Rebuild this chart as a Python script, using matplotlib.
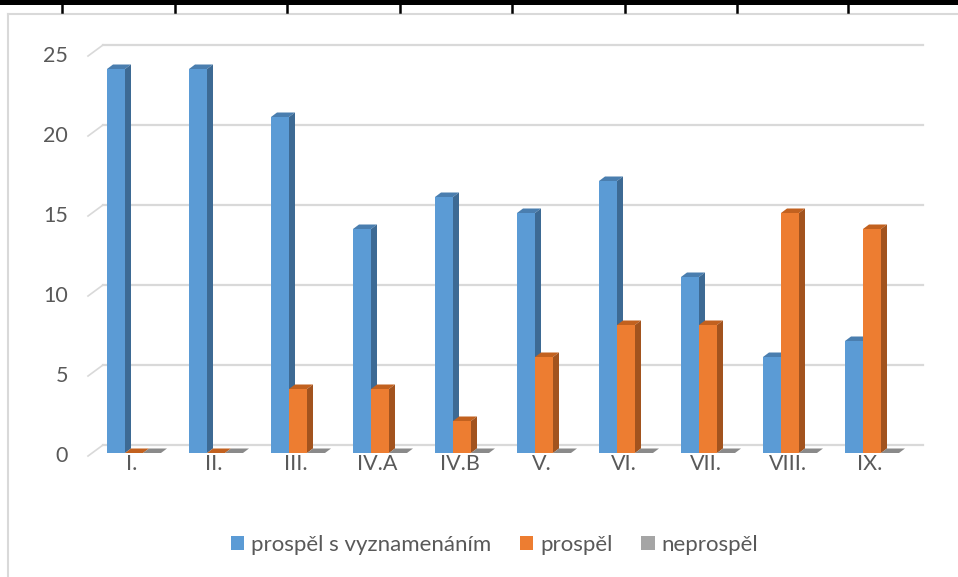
import matplotlib
matplotlib.use("Agg")
import matplotlib.pyplot as plt
from matplotlib.patches import Polygon, Patch, Rectangle
from matplotlib.lines import Line2D

plt.rcParams['font.family'] = ['Lato', 'DejaVu Sans']

# data
categories = ['I.', 'II.', 'III.', 'IV.A', 'IV.B', 'V.', 'VI.', 'VII.', 'VIII.', 'IX.']
series_names = ['prospěl s vyznamenáním', 'prospěl', 'neprospěl']
vyznamenani = [24, 24, 21, 14, 16, 15, 17, 11, 6, 7]
prospel = [0, 0, 4, 4, 2, 6, 8, 8, 15, 14]
neprospel = [0, 0, 0, 0, 0, 0, 0, 0, 0, 0]
y_ticks = [0, 5, 10, 15, 20, 25]

front_cols = ['#5B9BD5', '#ED7D31', '#A5A5A5']
side_cols = ['#3D6A94', '#A2531E', '#7A7A7A']
top_cols = ['#4A7EAF', '#C2611F', '#8A8A8A']
text_col = '#595959'
grid_col = '#D9D9D9'

W, H = 958, 577
fig = plt.figure(figsize=(W / 100, H / 100), dpi=100)
ax = fig.add_axes([0, 0, 1, 1])
ax.set_xlim(-134 / 82, (W - 134) / 82)
ax.set_ylim(-124 / 16, (H - 124) / 16)
ax.axis('off')

# 3d offsets (data units)
bw = 18 / 82
bdx, bdy = 6 / 82, 4.5 / 16
wdx, wdy = 10 / 82, 0.5

# back wall gridlines + diagonal ticks
for t in y_ticks:
    ax.plot([-0.5 + wdx, 9.62], [t + wdy, t + wdy], color=grid_col, lw=1.6, zorder=1)
    ax.plot([-0.561, -0.5 + wdx], [t - 0.19, t + wdy], color=grid_col, lw=1.2, zorder=1)
    ax.text(-0.805, t - 0.19, str(t), ha='right', va='center', fontsize=15.5, color=text_col)

# bars
all_series = [vyznamenani, prospel, neprospel]
for i in range(len(categories)):
    for k, vals in enumerate(all_series):
        v = vals[i]
        xl = i + (k - 1.5) * bw
        xr = xl + bw
        z = 2 + k
        top = Polygon([(xl, v), (xr, v), (xr + bdx, v + bdy), (xl + bdx, v + bdy)],
                      closed=True, fc=top_cols[k], ec='none', zorder=z)
        ax.add_patch(top)
        if v > 0:
            side = Polygon([(xr, 0), (xr, v), (xr + bdx, v + bdy), (xr + bdx, bdy)],
                           closed=True, fc=side_cols[k], ec='none', zorder=z)
            ax.add_patch(side)
            ax.bar(xl, v, width=bw, align='edge', color=front_cols[k], zorder=z)
    ax.text(i - 0.03, -0.68, categories[i], ha='center', va='center', fontsize=15.5, color=text_col)

# legend
handles = [Patch(fc=c, ec='none') for c in front_cols]
fig.legend(handles, series_names, loc='center', bbox_to_anchor=(0.516, 0.055), ncol=3,
           frameon=False, fontsize=16, labelcolor=text_col, handlelength=0.6, handleheight=0.6,
           handletextpad=0.3, columnspacing=1.3)

# chart border and table border at top
fig.add_artist(Line2D([8 / W, 8 / W], [0, 1 - 14 / H], color=grid_col, lw=1.5))
fig.add_artist(Line2D([8 / W, 1], [1 - 14 / H, 1 - 14 / H], color=grid_col, lw=1.5))
fig.add_artist(Rectangle((0, 1 - 5 / H), 1, 5 / H, transform=fig.transFigure,
                         fc='black', ec='none', zorder=10))
for xp in [62, 175, 287, 400, 512, 625, 737, 848]:
    fig.add_artist(Line2D([xp / W, xp / W], [1, 1 - 12 / H], color='black', lw=1.8, zorder=10))

fig.savefig('out.png', dpi=100)
